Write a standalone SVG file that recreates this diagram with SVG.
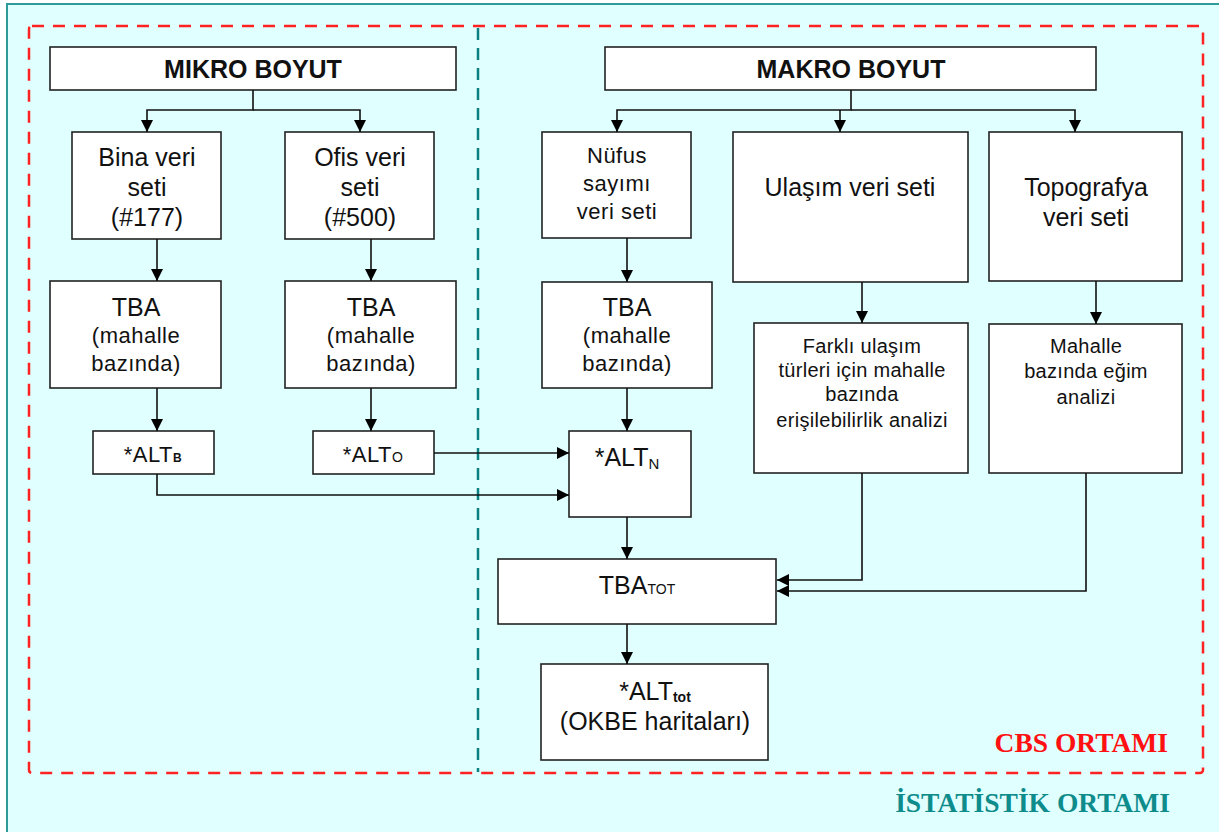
<svg xmlns="http://www.w3.org/2000/svg" width="1219" height="832" viewBox="0 0 1219 832">
<defs>
<marker id="ah" markerUnits="userSpaceOnUse" markerWidth="12" markerHeight="12" viewBox="0 0 12 12" refX="12" refY="6" orient="auto">
<path d="M0,0 L12,6 L0,12 z" fill="#000"/>
</marker>
<style>
.box{fill:#fff;stroke:#222;stroke-width:1.6}
.t{font-family:"Liberation Sans",Arial,sans-serif;font-size:25px;fill:#111;text-anchor:middle}
.s{font-size:22px;letter-spacing:0.5px}
.xs{font-size:20px;letter-spacing:0.3px}
.b{font-weight:bold}
.c{fill:none;stroke:#111;stroke-width:1.6;marker-end:url(#ah)}
.serif{font-family:"Liberation Serif","Times New Roman",serif;font-size:27.5px;font-weight:bold}
</style>
</defs>
<rect x="0" y="0" width="1219" height="832" fill="#fff"/>
<rect x="7" y="4" width="1230" height="850" fill="#E0FFFF" stroke="#2E9A9A" stroke-width="2"/>
<rect x="29" y="26" width="1174" height="747" rx="3" fill="none" stroke="#FF2222" stroke-width="2.5" stroke-dasharray="12,9"/>
<line x1="478" y1="28" x2="478" y2="772" stroke="#0A8080" stroke-width="2.5" stroke-dasharray="12,8"/>

<g id="mikro"><rect class="box" x="50" y="47" width="406" height="43"/><text class="t b" x="253" y="78">MIKRO BOYUT</text></g>
<g id="makro"><rect class="box" x="605" y="47" width="491" height="43"/><text class="t b" x="851" y="78">MAKRO BOYUT</text></g>

<g id="bina"><rect class="box" x="72" y="132" width="149" height="107"/><text class="t" x="147" y="166">Bina veri</text><text class="t" x="147" y="196">seti</text><text class="t" x="147" y="226">(#177)</text></g>
<g id="ofis"><rect class="box" x="285" y="132" width="149" height="107"/><text class="t" x="360" y="166">Ofis veri</text><text class="t" x="360" y="196">seti</text><text class="t" x="360" y="226">(#500)</text></g>

<g id="tba_b"><rect class="box" x="50" y="281" width="171" height="107"/><text class="t" x="136" y="316">TBA</text><text class="t s" x="136" y="343">(mahalle</text><text class="t s" x="136" y="371">bazında)</text></g>
<g id="tba_o"><rect class="box" x="285" y="281" width="171" height="107"/><text class="t" x="371" y="316">TBA</text><text class="t s" x="371" y="343">(mahalle</text><text class="t s" x="371" y="371">bazında)</text></g>

<g id="alt_b"><rect class="box" x="93" y="431" width="121" height="43"/><text class="t s" x="153" y="462">*ALT<tspan font-size="12" font-weight="bold">B</tspan></text></g>
<g id="alt_o"><rect class="box" x="313" y="431" width="121" height="43"/><text class="t s" x="373" y="462">*ALT<tspan font-size="14">O</tspan></text></g>

<g id="nufus"><rect class="box" x="542" y="132" width="149" height="106"/><text class="t s" x="617" y="163">Nüfus</text><text class="t s" x="617" y="191">sayımı</text><text class="t s" x="617" y="219">veri seti</text></g>
<g id="ulasim"><rect class="box" x="733" y="132" width="235" height="150"/><text class="t" x="850" y="196">Ulaşım veri seti</text></g>
<g id="topo"><rect class="box" x="989" y="132" width="193" height="149"/><text class="t" x="1086" y="196">Topografya</text><text class="t" x="1086" y="226">veri seti</text></g>

<g id="tba_n"><rect class="box" x="542" y="282" width="170" height="106"/><text class="t" x="627" y="316">TBA</text><text class="t s" x="627" y="343">(mahalle</text><text class="t s" x="627" y="371">bazında)</text></g>
<g id="farkli"><rect class="box" x="754" y="323" width="214" height="150"/><text class="t xs" x="862" y="353">Farklı ulaşım</text><text class="t xs" x="862" y="377">türleri için mahalle</text><text class="t xs" x="862" y="401">bazında</text><text class="t xs" x="862" y="427">erişilebilirlik analizi</text></g>
<g id="mahalle"><rect class="box" x="989" y="324" width="193" height="149"/><text class="t xs" x="1086" y="353">Mahalle</text><text class="t xs" x="1086" y="378">bazında eğim</text><text class="t xs" x="1086" y="404">analizi</text></g>

<g id="alt_n"><rect class="box" x="569" y="431" width="122" height="86"/><text class="t" x="627" y="466">*ALT<tspan font-size="15" dy="3">N</tspan></text></g>
<g id="tba_tot"><rect class="box" x="498" y="559" width="278" height="65"/><text class="t" x="637" y="594">TBA<tspan font-size="14">TOT</tspan></text></g>
<g id="alt_tot"><rect class="box" x="541" y="664" width="227" height="96"/><text class="t" x="655" y="700">*ALT<tspan font-size="14" font-weight="bold" dy="2">tot</tspan></text><text class="t" x="655" y="730">(OKBE haritaları)</text></g>

<text class="serif" x="1168" y="752" fill="#FF1111" text-anchor="end">CBS ORTAMI</text>
<text class="serif" x="1170" y="812" fill="#0E8C8C" text-anchor="end">İSTATİSTİK ORTAMI</text>

<g id="connectors">
<path class="c" d="M253,90 V110 H147 V132"/>
<path class="c" d="M253,110 H360 V132"/>
<path class="c" d="M157,239 V281"/>
<path class="c" d="M371,239 V281"/>
<path class="c" d="M157,388 V431"/>
<path class="c" d="M371,388 V431"/>
<path class="c" d="M434,453 H569"/>
<path class="c" d="M157,474 V495 H569"/>
<path class="c" d="M851,90 V110 H617 V132"/>
<path class="c" d="M851,110 H1075 V132"/>
<path class="c" d="M840,110 V132"/>
<path class="c" d="M627,238 V282"/>
<path class="c" d="M627,388 V431"/>
<path class="c" d="M627,517 V559"/>
<path class="c" d="M627,624 V664"/>
<path class="c" d="M862,282 V323"/>
<path class="c" d="M1096,281 V324"/>
<path class="c" d="M862,473 V580 H777"/>
<path class="c" d="M1086,473 V591 H777"/>
</g>
</svg>
